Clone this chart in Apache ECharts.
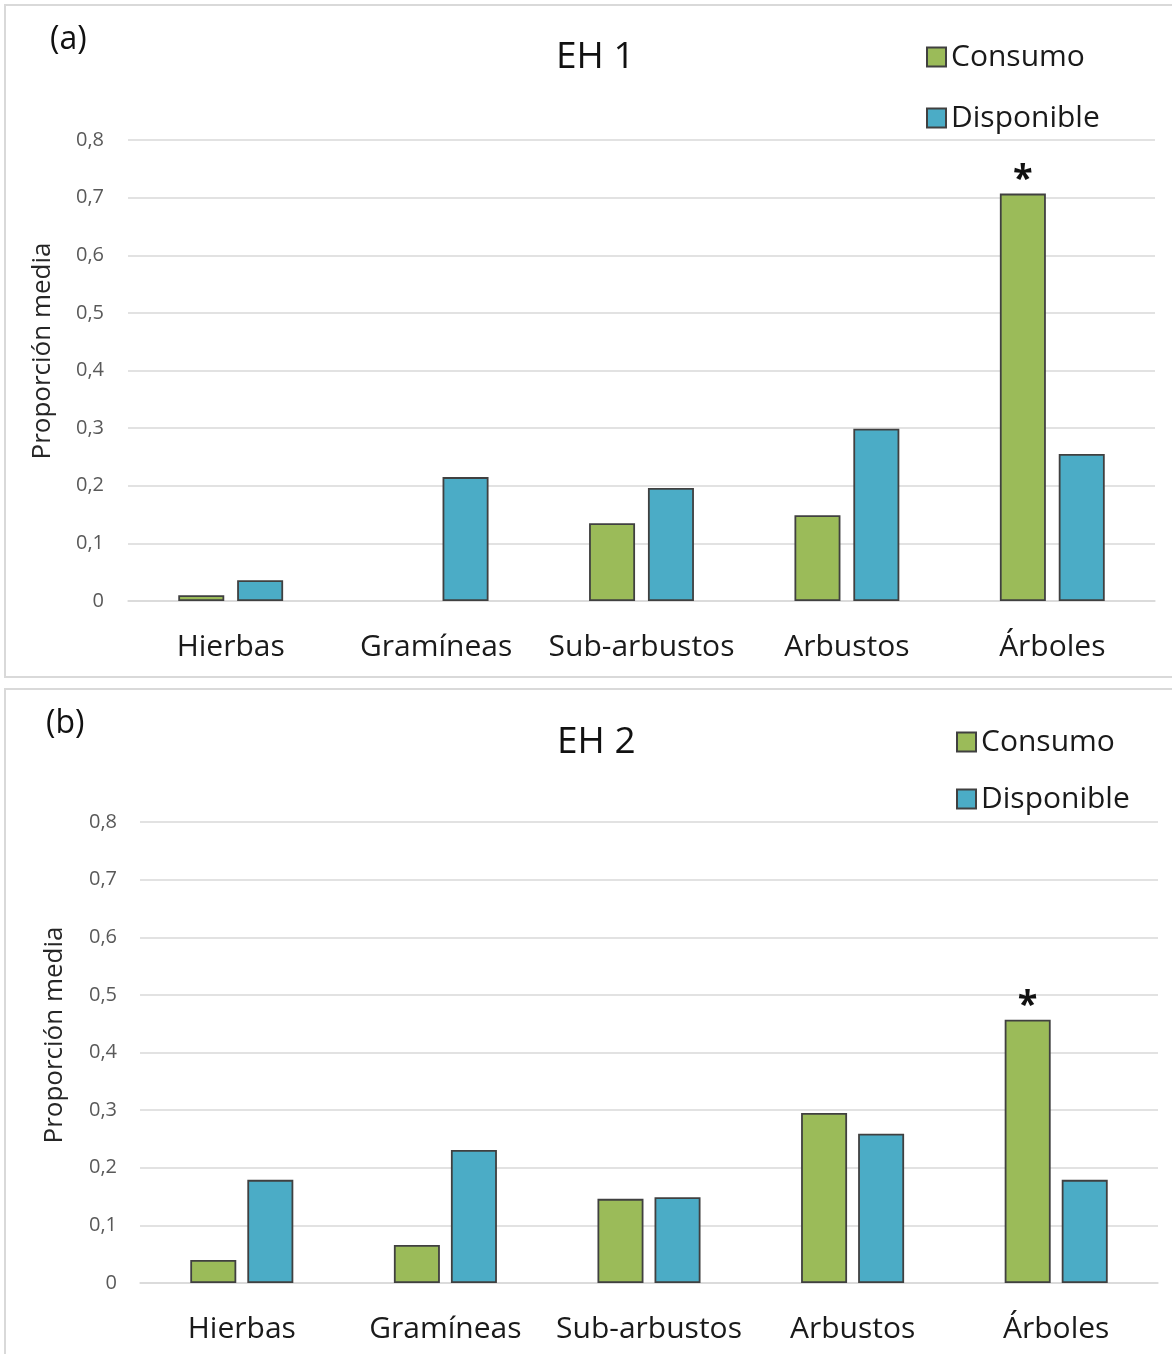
<!DOCTYPE html>
<html>
<head>
<meta charset="utf-8">
<script src="https://cdn.jsdelivr.net/npm/echarts@6/dist/echarts.min.js"></script>
<style>
html, body { margin: 0; padding: 0; background: #fff; }
#myChart { width: 1172px; height: 1354px; }
</style>
</head>
<body>
<div id="myChart"></div>
<script>
// categorías del eje x
var categories = ["Hierbas", "Gramíneas", "Sub-arbustos", "Arbustos", "Árboles"];
// EH 1
var consumoA = [0.01, 0, 0.135, 0.149, 0.707];
var disponibleA = [0.036, 0.215, 0.196, 0.299, 0.255];
var marcaA = ["", "", "", "", "*"];
// EH 2
var consumoB = [0.04, 0.066, 0.146, 0.295, 0.457];
var disponibleB = [0.179, 0.231, 0.149, 0.259, 0.179];
var marcaB = ["", "", "", "", "*"];
// etiquetas del eje y
var yTickLabels = ["0", "0,1", "0,2", "0,3", "0,4", "0,5", "0,6", "0,7", "0,8"];

var font = "Open Sans";
var verde = "#9BBB59";
var azul = "#4BACC6";
var borde = "#404040";
var gris = "#d9d9d9";

// añade el asterisco y oculta el borde de las barras con valor 0
function withMarks(values, marks) {
  return values.map(function (v, i) {
    var item = { value: v };
    if (v === 0) item.itemStyle = { borderWidth: 0 };
    if (marks && marks[i]) {
      item.label = {
        show: true,
        position: "top",
        distance: -4,
        formatter: marks[i],
        fontFamily: font,
        fontSize: 36,
        fontWeight: "bold",
        color: "#111"
      };
    }
    return item;
  });
}

function xAxisFor(gi) {
  return {
    type: "category",
    gridIndex: gi,
    data: categories,
    axisLine: { show: true, lineStyle: { color: gris, width: 1.5 } },
    axisTick: { show: false },
    axisLabel: { interval: 0, margin: 31, fontFamily: font, fontSize: 30, color: "#1a1a1a" }
  };
}

function yAxisFor(gi, margin) {
  return {
    type: "value",
    gridIndex: gi,
    min: 0,
    max: 0.8,
    interval: 0.1,
    axisLine: { show: false },
    axisTick: { show: false },
    splitLine: { lineStyle: { color: gris, width: 1.5 } },
    axisLabel: {
      margin: margin,
      fontFamily: font,
      fontSize: 20,
      color: "#595959",
      formatter: function (v) { return yTickLabels[Math.round(v * 10)]; }
    }
  };
}

function barSeries(name, color, xi, data, gap) {
  return {
    name: name,
    type: "bar",
    xAxisIndex: xi,
    yAxisIndex: xi,
    barWidth: 46,
    barGap: gap,
    data: data,
    itemStyle: { color: color, borderColor: borde, borderWidth: 1.8 }
  };
}

function legendFor(left, top, gap) {
  return {
    orient: "vertical",
    left: left,
    top: top,
    icon: "rect",
    itemWidth: 19,
    itemHeight: 19,
    itemGap: gap,
    data: ["Consumo", "Disponible"],
    textStyle: { fontFamily: font, fontSize: 30, color: "#1a1a1a", lineHeight: 30 }
  };
}

function yName(x, y) {
  return {
    type: "text",
    x: x,
    y: y,
    rotation: Math.PI / 2,
    silent: true,
    style: {
      text: "Proporción media",
      fontFamily: font,
      fontSize: 26,
      fill: "#262626",
      align: "center",
      verticalAlign: "middle"
    }
  };
}

var myChart = echarts.init(document.getElementById("myChart"));
myChart.setOption({
  animation: false,
  backgroundColor: "#fff",
  title: [
    { text: "(a)", left: 45, top: 19, textStyle: { fontFamily: font, fontSize: 32, fontWeight: "normal", color: "#111" } },
    { text: "EH 1", left: 551, top: 34, textStyle: { fontFamily: font, fontSize: 37, fontWeight: "normal", color: "#111" } },
    { text: "(b)", left: 41, top: 703, textStyle: { fontFamily: font, fontSize: 32, fontWeight: "normal", color: "#111" } },
    { text: "EH 2", left: 552, top: 719, textStyle: { fontFamily: font, fontSize: 37, fontWeight: "normal", color: "#111" } }
  ],
  legend: [legendFor(921, 37, 31), legendFor(951, 722, 27)],
  grid: [
    { left: 128, right: 17, top: 140, height: 461 },
    { left: 140, right: 14, top: 822, height: 461 }
  ],
  xAxis: [xAxisFor(0), xAxisFor(1)],
  yAxis: [yAxisFor(0, 24), yAxisFor(1, 23)],
  series: [
    barSeries("Consumo", verde, 0, withMarks(consumoA, marcaA), "28%"),
    barSeries("Disponible", azul, 0, withMarks(disponibleA), "28%"),
    barSeries("Consumo", verde, 1, withMarks(consumoB, marcaB), "24%"),
    barSeries("Disponible", azul, 1, withMarks(disponibleB), "24%")
  ],
  graphic: [
    { type: "rect", shape: { x: 5, y: 5, width: 1185, height: 672 }, style: { fill: null, stroke: gris, lineWidth: 2 }, silent: true },
    { type: "rect", shape: { x: 5, y: 689, width: 1185, height: 700 }, style: { fill: null, stroke: gris, lineWidth: 2 }, silent: true },
    yName(43, 351),
    yName(55, 1035)
  ]
});
</script>
</body>
</html>
